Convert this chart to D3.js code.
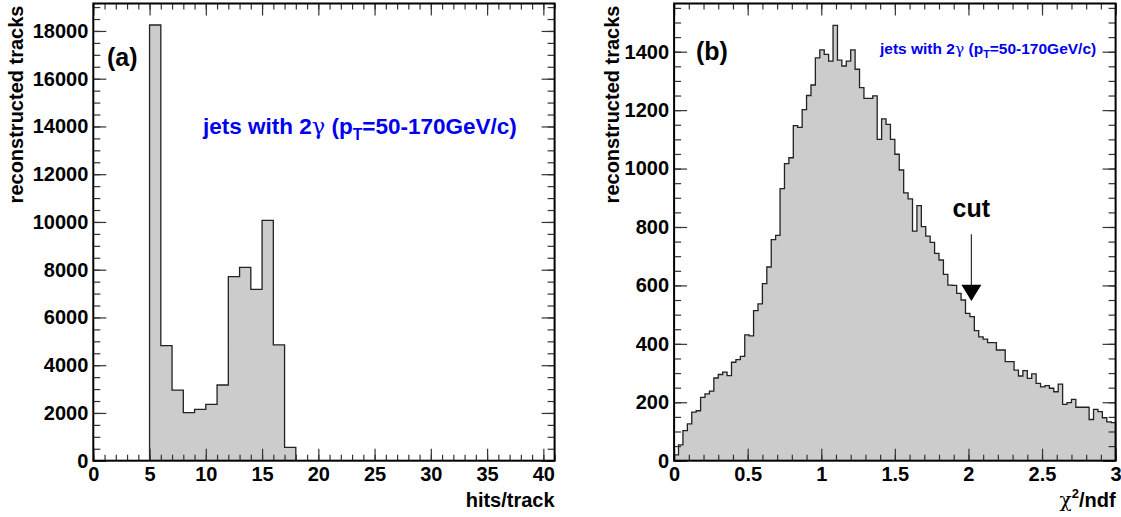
<!DOCTYPE html>
<html>
<head>
<meta charset="utf-8">
<script src="https://cdn.jsdelivr.net/npm/d3@7/dist/d3.min.js"></script>
<style>
  body { margin: 0; background: #fff; }
  svg text { font-family: "Liberation Sans", Arial, sans-serif; font-weight: bold; }
  svg tspan.greek { font-family: "DejaVu Serif", "Liberation Serif", serif; font-weight: normal; }
</style>
</head>
<body>
<div id="chart"></div>
<script>
// panel (a): hits per track, integer bins starting at 5
var hitsBinLow = [5, 6, 7, 8, 9, 10, 11, 12, 13, 14, 15, 16, 17],
    hitsCounts = [18250, 4820, 2960, 2010, 2150, 2360, 3170, 7710, 8100, 7180, 10070, 4850, 560],
    hitsTicks = [0, 5, 10, 15, 20, 25, 30, 35, 40],
    hitsYTicks = [0, 2000, 4000, 6000, 8000, 10000, 12000, 14000, 16000, 18000];

// panel (b): chi2/ndf, 100 bins from 0 to 3
var chiRange = [0, 3],
    chiCounts = [
      20, 54, 103, 126, 166, 171, 217, 229, 238, 283,
      295, 303, 291, 337, 346, 357, 431, 427, 514, 537,
      606, 663, 757, 771, 931, 1017, 1037, 1147, 1141, 1202,
      1250, 1286, 1379, 1406, 1391, 1368, 1490, 1371, 1351, 1368,
      1406, 1340, 1277, 1240, 1240, 1249, 1100, 1170, 1151, 1100,
      1049, 995, 917, 896, 786, 873, 801, 769, 747, 710,
      687, 638, 601, 600, 573, 550, 504, 493, 445, 424,
      416, 404, 404, 379, 379, 339, 339, 310, 290, 308,
      282, 297, 265, 253, 257, 248, 236, 262, 193, 199,
      210, 183, 183, 183, 141, 176, 168, 147, 133, 130],
    chiTicks = [0, 0.5, 1, 1.5, 2, 2.5, 3],
    chiYTicks = [0, 200, 400, 600, 800, 1000, 1200, 1400],
    cutValue = 2.02;

var W = 1121, H = 517;
var svg = d3.select("#chart").append("svg").attr("width", W).attr("height", H);

var frameTop = 3.5, frameBottom = 460.7;

function panel(opt) {
  var g = svg.append("g").attr("transform", "translate(" + opt.left + "," + frameTop + ")");
  var w = opt.right - opt.left, h = frameBottom - frameTop;
  var x = d3.scaleLinear().domain(opt.xDomain).range([0, w]);
  var y = d3.scaleLinear().domain(opt.yDomain).range([h, 0]);

  // histogram: points at bin low edges plus the closing edge
  var pts = opt.lows.map(function(d, i) { return [d, opt.counts[i]]; });
  pts.push([opt.lastEdge, opt.counts[opt.counts.length - 1]]);

  var area = d3.area().curve(d3.curveStepAfter)
      .x(function(d) { return x(d[0]); })
      .y0(h)
      .y1(function(d) { return y(d[1]); });
  g.append("path").datum(pts).attr("d", area).attr("fill", "#cccccc");

  var outline = [[pts[0][0], 0]].concat(pts).concat([[opt.lastEdge, 0]]);
  var line = d3.line().curve(d3.curveStepAfter)
      .x(function(d) { return x(d[0]); })
      .y(function(d) { return y(d[1]); });
  g.append("path").datum(outline).attr("d", line)
      .attr("fill", "none").attr("stroke", "#222").attr("stroke-width", 1.3);

  // ticks on all four sides, pointing inward
  function ticks(axis, tr, vals, size, labels, pad) {
    var ax = axis.tickValues(vals).tickSizeInner(-size).tickSizeOuter(0).tickPadding(pad || 5);
    if (!labels) ax.tickFormat("");
    else ax.tickFormat(opt.fmt || d3.format("~g"));
    var s = g.append("g").attr("transform", tr).call(ax);
    s.select(".domain").remove();
    s.selectAll("line").attr("stroke", "#333").attr("stroke-width", 1.2);
    s.selectAll("text").attr("font-size", 20).attr("fill", "#000")
        .attr("font-family", null);
    return s;
  }
  var xMinor = d3.range(opt.xDomain[0], opt.xDomain[1] + 1e-9, opt.xMinor),
      yMinor = d3.range(0, opt.yDomain[1], opt.yMinor);
  ticks(d3.axisBottom(x), "translate(0," + h + ")", xMinor, 6, false);
  ticks(d3.axisBottom(x), "translate(0," + h + ")", opt.xTicks, 12, true, 6);
  ticks(d3.axisTop(x), "translate(0,0)", xMinor, 6, false);
  ticks(d3.axisTop(x), "translate(0,0)", opt.xTicks, 12, false);
  ticks(d3.axisLeft(y), "translate(0,0)", yMinor, 7, false);
  ticks(d3.axisLeft(y), "translate(0,0)", opt.yTicks, 13, true, 5);
  ticks(d3.axisRight(y), "translate(" + w + ",0)", yMinor, 7, false);
  ticks(d3.axisRight(y), "translate(" + w + ",0)", opt.yTicks, 13, false);

  g.append("rect").attr("width", w).attr("height", h)
      .attr("fill", "none").attr("stroke", "#000").attr("stroke-width", 2);

  // axis titles
  g.append("text").attr("transform", "translate(" + (opt.yTitleX - opt.left) + ",2) rotate(-90)")
      .attr("text-anchor", "end").attr("dy", "0.75em").attr("font-size", 20).text("reconstructed tracks");

  g.append("text").attr("x", opt.panelLabel[0] - opt.left).attr("y", opt.panelLabel[1] - frameTop)
      .attr("font-size", 25).text(opt.label);

  var fs = opt.note[2];
  var t = g.append("text").attr("x", opt.note[0] - opt.left).attr("y", opt.note[1] - frameTop)
      .attr("font-size", fs).attr("fill", "#0000ee");
  t.append("tspan").text("jets with 2");
  t.append("tspan").attr("class", "greek").text("\u03b3");
  t.append("tspan").text(" (p");
  t.append("tspan").attr("font-size", fs * 0.7).attr("dy", fs * 0.25).text("T");
  t.append("tspan").attr("dy", -fs * 0.25).text("=50-170GeV/c)");

  return { g: g, x: x, y: y, w: w, h: h };
}

var pa = panel({
  left: 93.3, right: 554.6,
  xDomain: [0, 41], yDomain: [0, 19150],
  lows: hitsBinLow, counts: hitsCounts, lastEdge: 18,
  xTicks: hitsTicks, yTicks: hitsYTicks, xMinor: 1, yMinor: 500,
  fmt: d3.format("d"),
  yTitleX: 8, panelLabel: [107, 66], label: "(a)",
  note: [203, 134, 22.5]
});
pa.g.append("text").attr("x", pa.w).attr("y", 507 - frameTop).attr("text-anchor", "end")
    .attr("font-size", 20).text("hits/track");

var chiLows = chiCounts.map(function(d, i) {
  return chiRange[0] + i * (chiRange[1] - chiRange[0]) / chiCounts.length;
});
var pb = panel({
  left: 674.1, right: 1115.6,
  xDomain: chiRange, yDomain: [0, 1565],
  lows: chiLows, counts: chiCounts, lastEdge: chiRange[1],
  xTicks: chiTicks, yTicks: chiYTicks, xMinor: 0.1, yMinor: 50,
  yTitleX: 604, panelLabel: [696, 60], label: "(b)",
  note: [880, 54, 15.5]
});
var xt = pb.g.append("text").attr("x", pb.w).attr("y", 507 - frameTop).attr("text-anchor", "end")
    .attr("font-size", 20);
xt.append("tspan").attr("class", "greek").text("\u03c7");
xt.append("tspan").attr("font-size", 13).attr("dy", -9).text("2");
xt.append("tspan").attr("dy", 9).text("/ndf");

// cut marker
var cx = pb.x(cutValue);
pb.g.append("text").attr("x", cx).attr("y", 217 - frameTop).attr("text-anchor", "middle")
    .attr("font-size", 25).text("cut");
pb.g.append("line").attr("x1", cx).attr("x2", cx)
    .attr("y1", pb.y(775)).attr("y2", pb.y(600))
    .attr("stroke", "#333").attr("stroke-width", 1.2);
pb.g.append("path")
    .attr("d", "M" + (cx - 10) + "," + pb.y(602) + "L" + (cx + 10) + "," + pb.y(602) + "L" + cx + "," + pb.y(547) + "Z")
    .attr("fill", "#000");
</script>
</body>
</html>
